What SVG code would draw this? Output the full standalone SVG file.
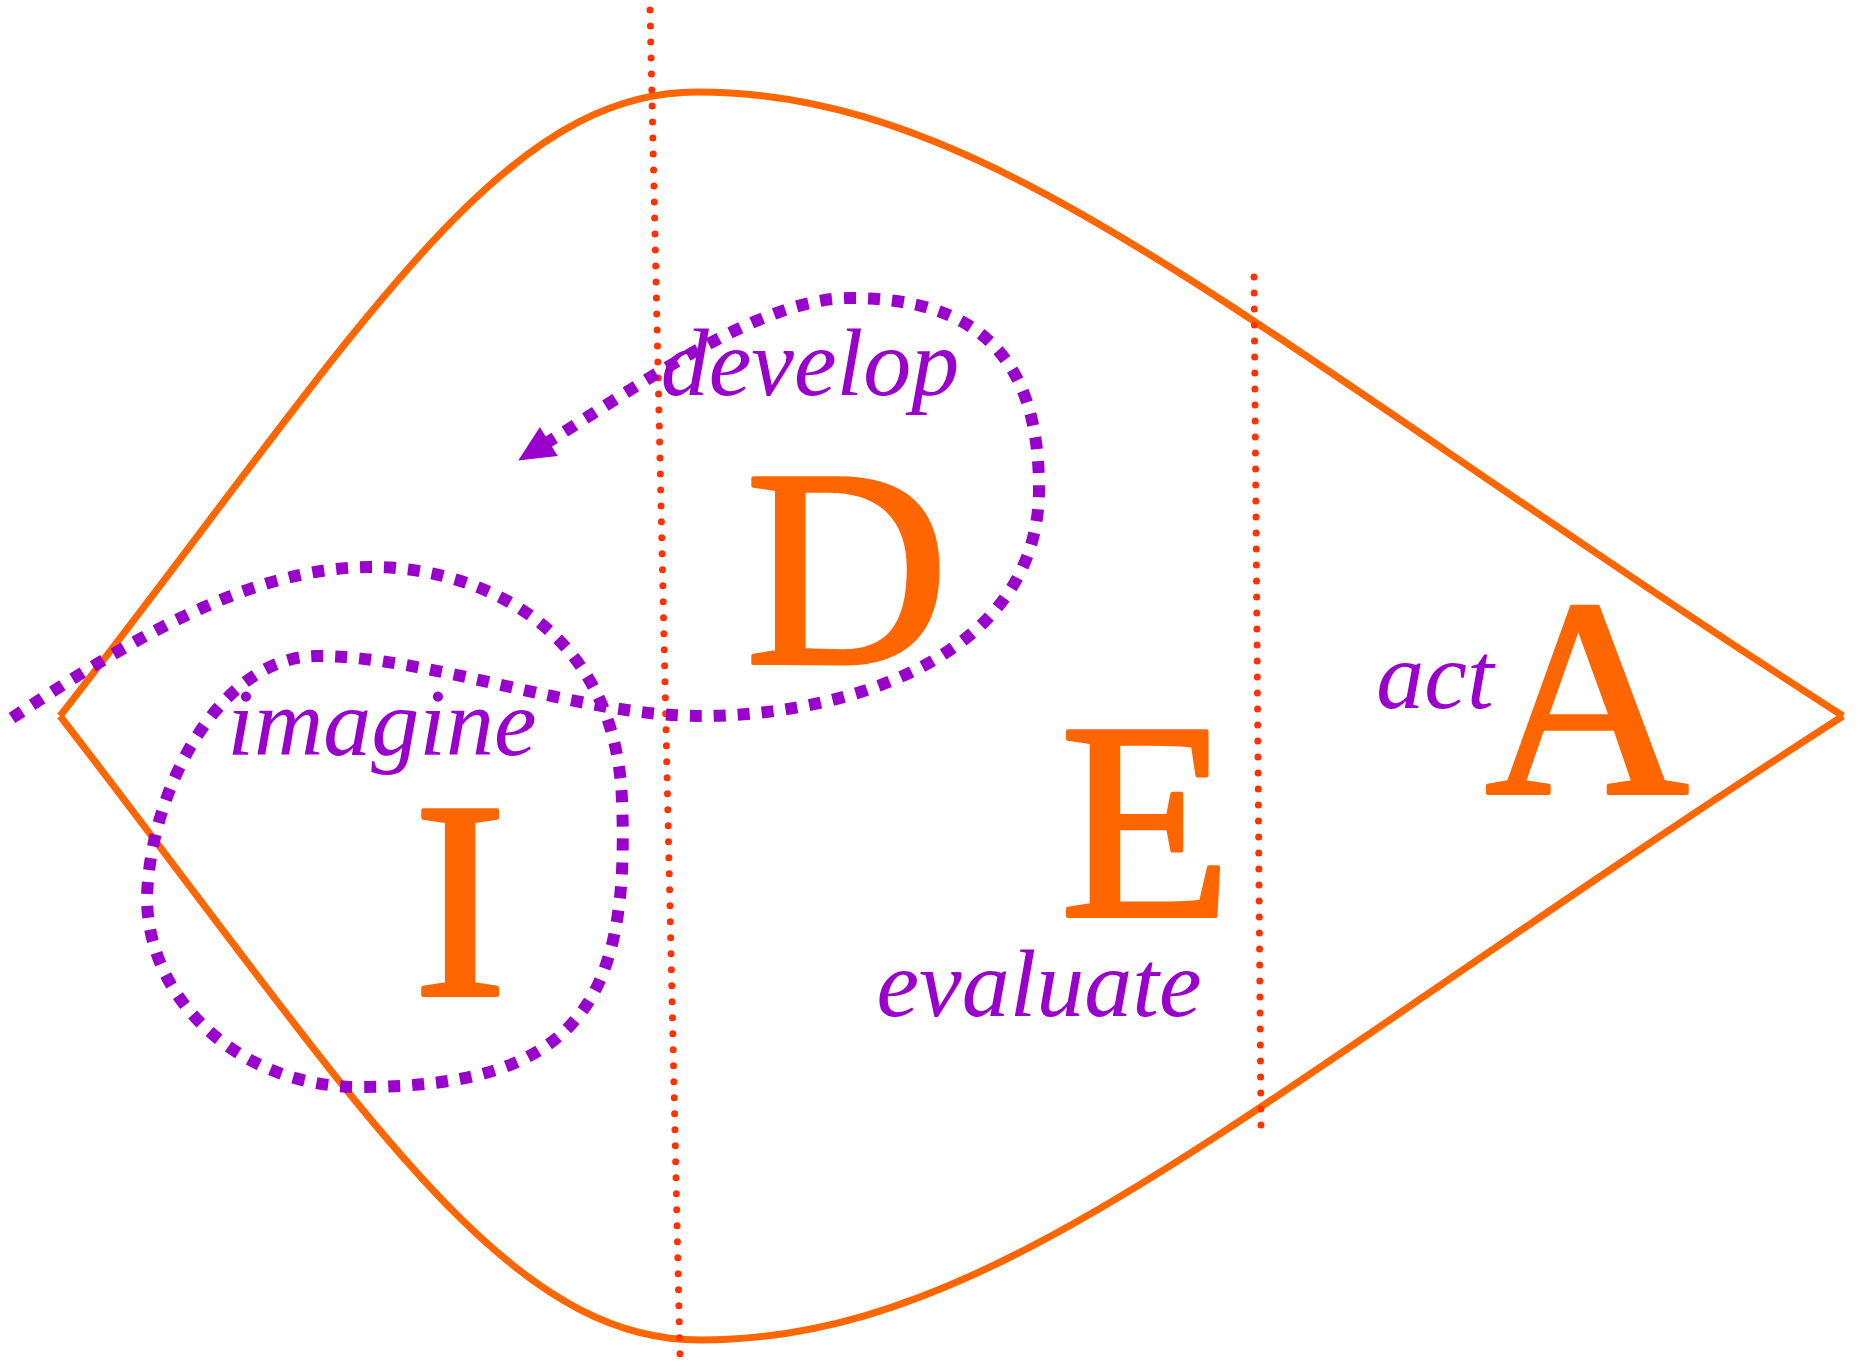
<svg xmlns="http://www.w3.org/2000/svg" width="1862" height="1362" viewBox="0 0 1862 1362">
  <style>
    .outline { fill: none; stroke: #ff6600; stroke-width: 7; stroke-linecap: butt; }
    .divider { fill: none; stroke: #ff3300; stroke-width: 7; stroke-linecap: round; stroke-dasharray: 0 16; }
    .flow { fill: none; stroke: #9900cc; stroke-width: 12; stroke-dasharray: 12 12; stroke-linecap: butt; }
    .letter { font-family: "Liberation Serif", "Times New Roman", serif; font-weight: normal; font-size: 282px; fill: #ff6600; stroke: #ff6600; stroke-width: 4; stroke-linejoin: round; text-anchor: middle; }
    .verb { font-family: "Liberation Serif", "Times New Roman", serif; font-style: italic; font-size: 96px; fill: #9900cc; text-anchor: middle; }
  </style>
  <defs>
    <marker id="arrow" markerUnits="userSpaceOnUse" markerWidth="36" markerHeight="34" viewBox="0 0 36 34" refX="1" refY="17" orient="auto">
      <path d="M0,0 L36,17 L0,34 Z" fill="#9900cc"/>
    </marker>
  </defs>
  <rect x="0" y="0" width="1862" height="1362" fill="#ffffff"/>

  <g id="outline">
    <path class="outline" d="M60,716 C360,331 497,92 697,92 C997,92 1243,330 1843,716"/>
    <path class="outline" d="M60,716 C360,1104 500,1340 700,1340 C1000,1340 1243,1102 1843,716"/>
  </g>

  <g id="dividers">
    <path class="divider" d="M650,10 L680,1357"/>
    <path class="divider" d="M1254,277 L1261,1128"/>
  </g>

  <g id="connectors">
    <path class="flow" marker-end="url(#arrow)" d="M12,718 C130,640 250,567 371,567 C470,567 615,620 622,800 C630,1000 580,1087 360,1087 C240,1087 147,1000 147,897 C150,790 220,656 317,656 C430,656 580,716 700,716 C840,716 1039,660 1039,489 C1039,360 980,298 850,298 C760,298 640,385 548,442"/>
  </g>

  <g id="node-I">
    <text class="letter" x="460" y="995">I</text>
    <text class="verb" x="382" y="755">imagine</text>
  </g>
  <g id="node-D">
    <text class="letter" x="847" y="663">D</text>
    <text class="verb" x="810" y="395">develop</text>
  </g>
  <g id="node-E">
    <text class="letter" x="1146" y="916">E</text>
    <text class="verb" x="1039" y="1016">evaluate</text>
  </g>
  <g id="node-A">
    <text class="letter" x="1587" y="793">A</text>
    <text class="verb" x="1435" y="708">act</text>
  </g>
</svg>
